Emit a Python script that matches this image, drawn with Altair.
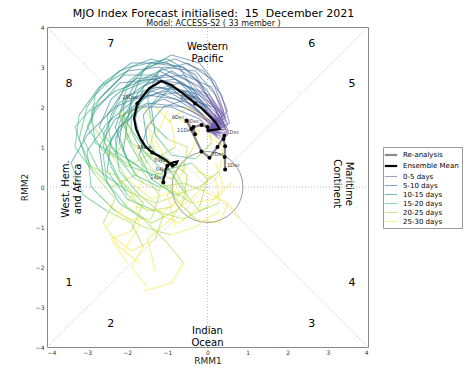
import altair as alt
import pandas as pd

FONT = "DejaVu Sans"

# ---------------- data ----------------
seg_names = ["0-5 days", "5-10 days", "10-15 days", "15-20 days", "20-25 days", "25-30 days"]
series_domain = ["Re-analysis", "Ensemble Mean"] + seg_names
series_colors = ["#8a8a8a", "#000000", "#6f5aa8", "#3d6f9b", "#2a918b", "#3dbb7b", "#a8d94c", "#f2ea45"]
series_widths = [2.2, 2.2, 1.1, 1.1, 1.1, 1.1, 1.1, 1.1]
series_opacity = [1, 1, 0.6, 0.6, 0.6, 0.6, 0.6, 0.6]

# ensemble members, points every 2.5 days (day 0 .. 30)
members = [
    [(0.02,1.41),(0.35,1.55),(-0.2,2.15),(-0.8,2.7),(-1.5,2.6),(-2.2,2.1),(-2.6,1.3),(-2.4,0.5),(-2.0,-0.2),(-1.5,-0.6),(-0.9,-0.5),(-0.5,0.1),(-0.6,0.6)],
    [(0.02,1.41),(0.4,1.7),(0.0,2.4),(-0.6,3.0),(-1.4,3.1),(-2.0,2.6),(-2.4,1.8),(-2.6,1.0),(-2.2,0.2),(-1.6,-0.4),(-1.9,-1.1),(-2.4,-1.3),(-2.0,-1.9)],
    [(0.02,1.41),(0.25,1.3),(-0.3,2.0),(-1.0,2.4),(-1.8,2.2),(-2.5,1.6),(-3.0,0.9),(-2.9,0.0),(-2.3,-0.6),(-1.6,-1.0),(-0.9,-1.2),(-0.3,-1.0),(0.3,-0.6)],
    [(0.02,1.41),(0.45,1.45),(0.1,2.1),(-0.3,2.8),(-1.0,3.2),(-1.9,3.0),(-2.6,2.3),(-3.3,1.5),(-3.0,0.6),(-2.4,0.0),(-1.8,0.3),(-1.3,0.9),(-1.5,1.6)],
    [(0.02,1.41),(0.3,1.6),(-0.4,2.2),(-1.2,2.5),(-2.0,2.3),(-2.3,1.5),(-2.0,0.7),(-1.4,0.3),(-0.8,0.4),(-0.5,-0.2),(-0.9,-0.8),(-1.5,-1.3),(-1.3,-2.1)],
    [(0.02,1.41),(0.5,1.9),(0.2,2.6),(-0.2,3.1),(-0.9,3.3),(-1.6,2.9),(-1.9,2.2),(-1.9,1.4),(-1.5,0.6),(-1.0,0.0),(-0.4,-0.4),(0.2,-0.3),(0.6,0.1)],
    [(0.02,1.41),(0.2,1.7),(-0.5,2.3),(-1.3,2.7),(-2.2,2.6),(-2.8,1.9),(-3.1,1.2),(-2.7,0.4),(-2.0,-0.1),(-1.3,-0.4),(-0.7,-0.2),(-0.9,0.5),(-1.4,0.9)],
    [(0.02,1.41),(0.35,1.25),(-0.1,1.8),(-0.7,2.3),(-1.3,2.8),(-2.1,2.8),(-2.7,2.2),(-3.0,1.5),(-2.6,0.9),(-2.0,0.6),(-1.6,0.1),(-2.1,-0.5),(-2.5,-1.0)],
    [(0.02,1.41),(0.4,1.8),(-0.2,2.5),(-0.9,2.9),(-1.6,2.5),(-1.8,1.7),(-1.6,0.9),(-1.1,0.4),(-0.4,0.6),(0.0,0.2),(-0.2,-0.5),(-0.7,-0.9),(-1.2,-0.7)],
    [(0.02,1.41),(0.3,1.45),(-0.4,1.9),(-1.1,2.2),(-1.9,1.9),(-2.4,1.2),(-2.5,0.4),(-2.0,-0.3),(-1.3,-0.6),(-0.6,-0.8),(0.0,-0.5),(0.4,0.0),(0.2,0.6)],
    [(0.02,1.41),(0.45,1.65),(0.2,2.3),(-0.3,2.9),(-1.1,3.0),(-1.7,2.4),(-2.2,1.6),(-2.3,0.8),(-1.8,0.2),(-1.2,-0.1),(-1.0,0.6),(-1.3,1.2),(-1.0,1.9)],
    [(0.02,1.41),(0.25,1.5),(-0.5,2.1),(-1.4,2.4),(-2.3,2.0),(-3.0,1.3),(-3.4,0.6),(-3.1,-0.2),(-2.5,-0.6),(-1.9,-0.9),(-1.6,-1.5),(-1.9,-2.0),(-1.5,-2.5)],
    [(0.02,1.41),(0.4,1.5),(0.0,2.0),(-0.6,2.6),(-1.2,2.9),(-1.8,2.6),(-2.1,2.0),(-2.0,1.2),(-1.6,0.5),(-0.9,0.2),(-0.4,0.9),(-0.2,1.4),(-0.7,1.7)],
    [(0.02,1.41),(0.3,1.75),(-0.3,2.4),(-1.0,2.8),(-1.8,2.7),(-2.4,2.2),(-2.7,1.5),(-2.3,0.9),(-1.7,0.5),(-1.2,-0.2),(-1.4,-0.8),(-2.0,-0.8),(-2.5,-0.4)],
    [(0.02,1.41),(0.45,1.35),(0.0,1.9),(-0.4,2.5),(-0.7,3.0),(-1.4,3.2),(-2.2,2.9),(-2.8,2.3),(-2.9,1.6),(-2.5,1.0),(-2.0,0.2),(-1.4,-0.3),(-0.8,-0.1)],
    [(0.02,1.41),(0.35,1.6),(-0.2,2.2),(-0.9,2.5),(-1.6,2.2),(-2.0,1.6),(-2.1,0.9),(-1.8,0.3),(-1.2,0.0),(-0.6,0.1),(-0.1,-0.1),(0.5,-0.4),(0.8,-0.8)],
    [(0.02,1.41),(0.5,1.55),(0.3,2.2),(0.1,2.7),(-0.5,3.1),(-1.2,2.9),(-1.5,2.3),(-1.4,1.6),(-1.0,1.2),(-0.5,1.0),(-0.6,0.4),(-1.0,-0.2),(-0.8,-1.0)],
    [(0.02,1.41),(0.2,1.6),(-0.6,2.0),(-1.5,2.1),(-2.3,1.7),(-2.7,1.0),(-2.6,0.3),(-2.2,-0.4),(-1.6,-0.8),(-1.0,-1.4),(-0.6,-1.9),(-0.9,-2.4),(-1.6,-2.6)],
    [(0.02,1.41),(0.4,1.9),(0.1,2.5),(-0.6,2.8),(-1.4,2.7),(-2.1,2.4),(-2.5,1.8),(-2.4,1.0),(-2.0,0.5),(-1.5,0.8),(-1.3,1.5),(-1.6,2.0),(-2.1,1.8)],
    [(0.02,1.41),(0.3,1.35),(-0.2,1.85),(-0.8,2.2),(-1.5,2.3),(-2.1,1.8),(-2.2,1.1),(-1.9,0.5),(-1.3,0.3),(-0.8,-0.3),(-0.3,-0.8),(0.3,-0.9),(0.5,-0.4)],
    [(0.02,1.41),(0.5,1.3),(0.3,1.9),(-0.2,2.3),(-0.9,2.5),(-1.4,2.0),(-1.3,1.3),(-0.9,0.8),(-0.3,0.7),(0.1,1.1),(0.0,1.7),(-0.5,2.0),(-1.0,1.6)],
    [(0.02,1.41),(0.25,1.9),(-0.4,2.6),(-1.2,3.0),(-2.0,2.9),(-2.7,2.5),(-3.2,1.8),(-3.3,1.0),(-2.8,0.3),(-2.3,-0.3),(-2.6,-0.9),(-2.2,-1.5),(-1.7,-1.9)],
    [(0.02,1.41),(0.35,1.4),(-0.1,2.0),(-0.5,2.4),(-1.2,2.3),(-1.6,1.8),(-1.5,1.1),(-1.0,0.5),(-0.6,-0.1),(-0.2,-0.6),(0.3,-0.4),(0.2,0.2),(-0.3,0.4)],
    [(0.02,1.41),(0.45,1.75),(0.05,2.3),(-0.7,2.6),(-1.5,2.7),(-2.3,2.4),(-2.9,1.9),(-2.8,1.1),(-2.3,0.8),(-1.9,1.4),(-2.2,1.9),(-2.0,1.3),(-1.6,0.6)],
    [(0.02,1.41),(0.55,1.6),(0.35,2.3),(-0.1,2.9),(-0.8,3.2),(-1.5,3.0),(-2.0,2.5),(-2.2,1.8),(-1.9,1.1),(-1.3,0.7),(-0.8,1.0),(-0.9,1.6),(-1.3,2.0)],
    [(0.02,1.41),(0.3,1.2),(-0.2,1.7),(-0.9,2.0),(-1.6,2.0),(-2.2,1.5),(-2.6,0.8),(-2.5,0.1),(-2.0,-0.5),(-1.4,-0.9),(-0.8,-0.6),(-0.3,-0.2),(0.1,0.3)],
    [(0.02,1.41),(0.4,1.6),(0.0,2.25),(-0.7,2.6),(-1.4,2.4),(-1.9,1.9),(-2.3,1.2),(-2.2,0.4),(-1.7,-0.2),(-1.1,-0.7),(-1.3,-1.3),(-1.9,-1.6),(-2.4,-1.2)],
    [(0.02,1.41),(0.5,1.45),(0.15,2.0),(-0.5,2.2),(-1.1,2.0),(-1.5,1.5),(-1.7,0.8),(-1.4,0.2),(-0.8,-0.2),(-0.2,0.0),(0.3,0.4),(0.4,1.0),(0.0,1.3)],
    [(0.02,1.41),(0.3,1.85),(-0.3,2.7),(-1.0,3.1),(-1.9,3.1),(-2.6,2.6),(-3.0,2.0),(-3.2,1.2),(-2.9,0.5),(-2.3,0.3),(-1.8,-0.3),(-1.7,-1.0),(-2.1,-1.6)],
    [(0.02,1.41),(0.45,1.5),(0.05,1.95),(-0.6,2.4),(-1.3,2.5),(-1.9,2.2),(-2.0,1.6),(-1.6,1.0),(-1.0,0.7),(-0.5,0.3),(-0.6,-0.3),(-1.1,-0.6),(-1.8,-0.5)],
]

# re-analysis (1 - 15 Dec)
rean_x = [0.44, 0.43, 0.44, 0.40, 0.42, 0.25, 0.05, -0.15, -0.52, -0.40, -0.31, -0.35, -0.15, 0.00, 0.02]
rean_y = [0.44, 0.75, 1.02, 1.20, 1.28, 1.00, 0.73, 0.89, 1.66, 1.45, 1.32, 1.50, 1.55, 1.50, 1.41]
rean_lab = ["1Dec", "", "", "", "5Dec", "", "7Dec", "", "9Dec", "", "11Dec", "", "13Dec", "", "15Dec"]

# ensemble mean (15 Dec - 14 Jan)
mean_x = [0.02, 0.30, 0.20, 0.00, -0.15, -0.31, -0.60, -0.90, -1.15, -1.45, -1.75, -1.83, -1.78, -1.68, -1.55, -1.38,
          -1.20, -1.05, -0.95, -0.90, -0.87, -0.78, -0.75, -0.85, -0.95, -1.00, -1.05, -1.05, -1.08, -1.10, -1.10]
mean_y = [1.41, 1.45, 1.62, 1.82, 1.97, 2.09, 2.33, 2.55, 2.65, 2.47, 2.09, 1.72, 1.45, 1.22, 1.02, 0.86,
          0.77, 0.68, 0.60, 0.55, 0.53, 0.57, 0.64, 0.62, 0.57, 0.53, 0.42, 0.33, 0.25, 0.18, 0.11]
mean_lab = {5: "20Dec", 10: "25Dec", 15: "30Dec", 20: "04Jan", 25: "09Jan", 30: "14Jan"}

phase_nums = ["1", "2", "3", "4", "5", "6", "7", "8"]
phase_x = [-3.45, -2.41, 2.6, 3.6, 3.6, 2.6, -2.41, -3.45]
phase_y = [-2.41, -3.43, -3.43, -2.41, 2.58, 3.58, 3.58, 2.58]

regions = ["Western\nPacific", "Indian\nOcean"]
region_x = [0.0, 0.0]
region_y = [3.5, -3.6]

# ---------------- frames ----------------
rows = []
for m, pts in enumerate(members):
    for k, name in enumerate(seg_names):
        for j in range(2 * k, 2 * k + 3):
            rows.append({"key": f"{m}-{k}", "series": name, "x": pts[j][0], "y": pts[j][1], "o": j})
mem_df = pd.DataFrame(rows)

rean_df = pd.DataFrame({"x": rean_x, "y": rean_y, "lab": rean_lab, "o": range(len(rean_x))})
rean_df["series"] = "Re-analysis"
mean_df = pd.DataFrame({"x": mean_x, "y": mean_y, "o": range(len(mean_x))})
mean_df["lab"] = [mean_lab.get(i, "") for i in range(len(mean_x))]
mean_df["series"] = "Ensemble Mean"

guide_df = pd.DataFrame({
    "g": [0, 0, 1, 1, 2, 2, 3, 3],
    "x": [-4, 4, -4, 4, -4, 4, 0, 0],
    "y": [-4, 4, 4, -4, 0, 0, -4, 4],
})
phase_df = pd.DataFrame({"t": phase_nums, "x": phase_x, "y": phase_y})
region_df = pd.DataFrame({"t": regions, "x": region_x, "y": region_y})

# ---------------- scales / encodings ----------------
xs = alt.Scale(domain=[-4, 4], nice=False, zero=False)
ys = alt.Scale(domain=[-4, 4], nice=False, zero=False)
minus = "replace(datum.label, '-', '\u2212')"
X = alt.X("x:Q", scale=xs, axis=alt.Axis(title="RMM1", values=list(range(-4, 5)), labelExpr=minus,
                                         titlePadding=1, labelPadding=2))
Y = alt.Y("y:Q", scale=ys, axis=alt.Axis(title="RMM2", values=list(range(-4, 5)), labelExpr=minus,
                                         titlePadding=6, labelPadding=3))

legend = alt.Legend(title=None, orient="none", legendX=336, legendY=120,
                    symbolType="M-1.6,0H1.6", symbolSize=60, labelFontSize=7, labelFont=FONT,
                    strokeColor="#999999", fillColor="white", padding=3, rowPadding=1,
                    labelOffset=7, labelColor="black", symbolFillColor="transparent")
col = alt.Color("series:N", scale=alt.Scale(domain=series_domain, range=series_colors), legend=legend)
sw = alt.StrokeWidth("series:N", scale=alt.Scale(type="ordinal", domain=series_domain, range=series_widths), legend=legend)
op = alt.Opacity("series:N", scale=alt.Scale(type="ordinal", domain=series_domain, range=series_opacity), legend=legend)

guides = alt.Chart(guide_df).mark_line(color="#aaaaaa", strokeDash=[1, 2], strokeWidth=0.8).encode(
    x=X, y=Y, detail="g:N")
circle = alt.Chart(pd.DataFrame({"x": [0], "y": [0]})).mark_point(
    shape="circle", filled=False, size=5030, color="#999999", strokeWidth=1, opacity=1).encode(x=X, y=Y)

mem = alt.Chart(mem_df).mark_line().encode(x=X, y=Y, detail="key:N", order="o:Q", color=col, strokeWidth=sw, opacity=op)
rean = alt.Chart(rean_df).mark_line().encode(x=X, y=Y, order="o:Q", color=col, strokeWidth=sw, opacity=op)
mean = alt.Chart(mean_df).mark_line().encode(x=X, y=Y, order="o:Q", color=col, strokeWidth=sw, opacity=op)

rean_dots = alt.Chart(rean_df).transform_filter("datum.lab != ''").mark_circle(size=16, color="black", opacity=1).encode(x=X, y=Y)
mean_dots = alt.Chart(mean_df).transform_filter("datum.lab != ''").mark_circle(size=16, color="black", opacity=1).encode(x=X, y=Y)

left_labels = ["9Dec", "11Dec", "13Dec"]
rean_txt_r = alt.Chart(rean_df).transform_filter(
    alt.FieldOneOfPredicate(field="lab", oneOf=["1Dec", "5Dec", "7Dec"])).mark_text(
    align="left", dx=2, dy=-4, fontSize=5, font=FONT, color="#333333").encode(x=X, y=Y, text="lab:N")
rean_txt_l = alt.Chart(rean_df).transform_filter(
    alt.FieldOneOfPredicate(field="lab", oneOf=left_labels)).mark_text(
    align="right", dx=-2, dy=-4, fontSize=5, font=FONT, color="#333333").encode(x=X, y=Y, text="lab:N")
mean_txt = alt.Chart(mean_df).transform_filter("datum.lab != '' && datum.lab != '04Jan'").mark_text(
    align="right", dx=1, dy=-6, fontSize=5, font=FONT, color="#333333").encode(x=X, y=Y, text="lab:N")
mean_txt2 = alt.Chart(mean_df).transform_filter("datum.lab == '04Jan'").mark_text(
    align="right", dx=-3, dy=3, fontSize=5, font=FONT, color="#333333").encode(x=X, y=Y, text="lab:N")

phases = alt.Chart(phase_df).mark_text(fontSize=11, font=FONT, color="black").encode(x=X, y=Y, text="t:N")
region_txt = alt.Chart(region_df).mark_text(fontSize=10, font=FONT, color="black", lineBreak="\n",
                                            lineHeight=12, baseline="middle").encode(x=X, y=Y, text="t:N")
west = alt.Chart(pd.DataFrame({"t": ["West. Hem.\nand Africa"], "x": [-3.53], "y": [-0.05]})).mark_text(
    fontSize=10, font=FONT, color="black", lineBreak="\n", lineHeight=12, angle=270, baseline="middle").encode(
    x=X, y=Y, text="t:N")
mari = alt.Chart(pd.DataFrame({"t": ["Maritime\nContinent"], "x": [3.53], "y": [0.08]})).mark_text(
    fontSize=10, font=FONT, color="black", lineBreak="\n", lineHeight=12, angle=90, baseline="middle").encode(
    x=X, y=Y, text="t:N")

chart = alt.layer(
    guides, circle, mem, rean, mean, rean_dots, mean_dots, rean_txt_r, rean_txt_l, mean_txt, mean_txt2,
    phases, region_txt, west, mari
).properties(
    width=321, height=320,
    autosize=alt.AutoSizeParams(type="none"),
    padding={"left": 39, "top": 19, "right": 95, "bottom": 22},
    title=alt.Title("MJO Index Forecast initialised:\u00a0 15\u00a0 December 2021",
                    subtitle="Model: ACCESS-S2 ( 33 member )",
                    fontSize=11, subtitleFontSize=8, font=FONT, subtitleFont=FONT,
                    fontWeight="normal", color="black", subtitleColor="#111111",
                    offset=-4, subtitlePadding=1, anchor="middle", dx=6),
).configure_view(stroke="#888888", strokeWidth=1).configure_axis(
    domain=False, ticks=False, grid=False, labelFont=FONT, titleFont=FONT, labelFontSize=6,
    labelColor="#333333", titleFontSize=9, titleFontWeight="normal", titleColor="#222222",
)

chart.save("out.html", embed_options={"renderer": "svg", "actions": False})
